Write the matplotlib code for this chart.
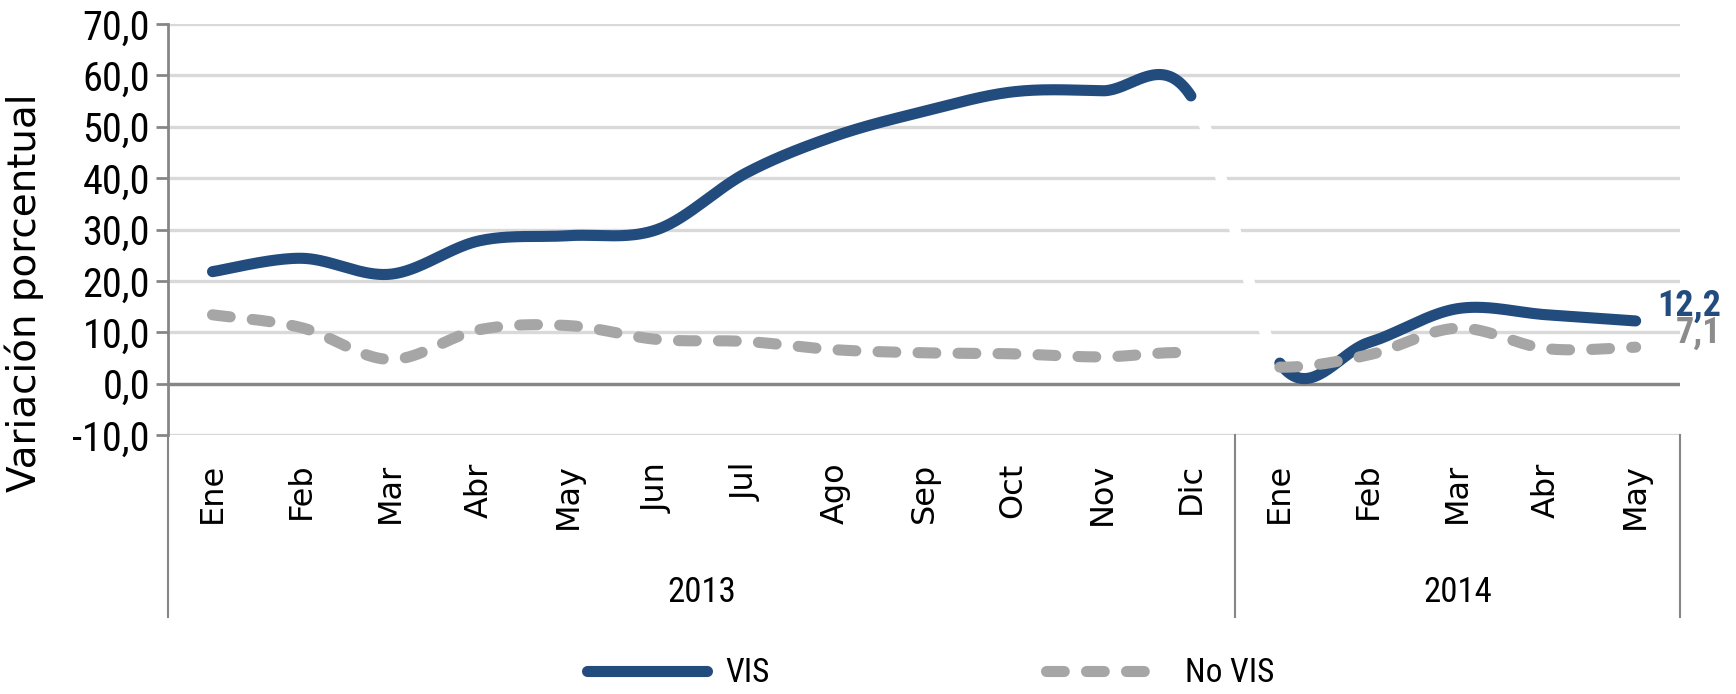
import numpy as np
import matplotlib
matplotlib.use('Agg')
import matplotlib.pyplot as plt
import matplotlib.transforms as mtransforms
from matplotlib.lines import Line2D
from matplotlib.ticker import FuncFormatter, MultipleLocator

# Datos
meses = ['Ene', 'Feb', 'Mar', 'Abr', 'May', 'Jun', 'Jul', 'Ago', 'Sep', 'Oct', 'Nov', 'Dic',
         'Ene', 'Feb', 'Mar', 'Abr', 'May']
anios = ['2013', '2014']
meses_por_anio = [12, 5]
vis = [21.8, 24.4, 21.3, 27.8, 28.8, 30.0, 41.0, 48.2, 53.0, 56.8, 57.0, 56.0,
       4.0, 8.0, 14.6, 13.4, 12.2]
no_vis = [13.4, 10.9, 4.7, 10.5, 11.3, 8.6, 8.2, 6.6, 6.0, 5.8, 5.2, 6.0,
          3.2, 5.6, 10.8, 6.8, 7.1]

AZUL = '#234C7E'
GRIS = '#A6A6A6'
GRID = '#D9D9D9'
EJE = '#868686'

NARROW = ['Roboto Condensed', 'PT Sans Narrow', 'Liberation Sans']


# Suavizado tipo Excel (Bezier con tangentes de Catmull-Rom)
def bezier(px, py, i, n=40):
    k = len(px)
    im1, ip2 = max(i - 1, 0), min(i + 2, k - 1)
    p0 = np.array([px[i], py[i]])
    p3 = np.array([px[i + 1], py[i + 1]])
    c1 = p0 + (p3 - np.array([px[im1], py[im1]])) / 6
    c2 = p3 - (np.array([px[ip2], py[ip2]]) - p0) / 6
    t = np.linspace(0, 1, n)[:, None]
    return (1 - t) ** 3 * p0 + 3 * (1 - t) ** 2 * t * c1 + 3 * (1 - t) * t ** 2 * c2 + t ** 3 * p3


def curva(py, i0, i1):
    px = np.arange(len(py))
    pts = np.vstack([bezier(px, py, i) for i in range(i0, i1)])
    return pts[:, 0], pts[:, 1]


def coma(v):
    return f"{v:.1f}".replace('.', ',')


fig = plt.figure(figsize=(17.36, 6.94), dpi=100)
ax = fig.add_axes([0.0968, 0.3732, 0.8710, 0.5922])

n = len(meses)
corte = meses_por_anio[0] - 1

ax.set_xlim(-0.5, n - 0.5)
ax.set_ylim(-10, 70)
ax.yaxis.set_major_locator(MultipleLocator(10))
ax.yaxis.set_major_formatter(FuncFormatter(lambda v, p: coma(v)))
ax.grid(axis='y', color=GRID, lw=2.4, zorder=0)
ax.set_axisbelow(True)
ax.axhline(0, color=EJE, lw=2.4, zorder=1)

for serie, color, estilo in [(vis, AZUL, dict(solid_capstyle='round')),
                             (no_vis, GRIS, dict(dashes=(1.6, 2.0), dash_capstyle='round'))]:
    x, y = curva(serie, 0, corte)
    ax.plot(x, y, color=color, lw=8, zorder=3, **estilo)
    # tramo Dic-Ene en blanco, como en el original
    x, y = curva(serie, corte, corte + 1)
    ax.plot(x, y, color='white', lw=8, zorder=2, solid_capstyle='butt')
    x, y = curva(serie, corte + 1, n - 1)
    ax.plot(x, y, color=color, lw=8, zorder=3, **estilo)

for spine in ['top', 'right', 'bottom']:
    ax.spines[spine].set_visible(False)
ax.spines['left'].set_color(EJE)
ax.spines['left'].set_linewidth(2)

ax.tick_params(axis='y', length=9, width=2, color=EJE, pad=4, labelsize=29)
for lbl in ax.get_yticklabels():
    lbl.set_family(NARROW)
ax.set_xticks(range(n))
ax.set_xticklabels(meses, rotation=90, fontsize=23, family='DejaVu Sans')
ax.tick_params(axis='x', length=0, pad=20)

# Separadores y etiquetas de año
tr = mtransforms.blended_transform_factory(ax.transData, ax.transAxes)
bordes = np.concatenate([[0], np.cumsum(meses_por_anio)]) - 0.5
for b in bordes:
    ax.plot([b, b], [0, -0.443], color=EJE, lw=1.5, transform=tr, clip_on=False)
for i, anio in enumerate(anios):
    centro = (bordes[i] + bordes[i + 1]) / 2
    ax.text(centro, -0.384, anio, transform=tr, ha='center', va='center',
            fontsize=25, family=NARROW)

ax.set_ylabel('Variación porcentual', fontsize=28, family='DejaVu Sans')
ax.yaxis.set_label_coords(-0.082, 0.345)

# Etiquetas del último dato
ax.annotate(coma(vis[-1]), (n - 1, vis[-1]), xytext=(62, 11),
            textcoords='offset points', ha='right', va='center', fontsize=26,
            fontweight='bold', color=AZUL, family=NARROW, annotation_clip=False)
ax.annotate(coma(no_vis[-1]), (n - 1, no_vis[-1]), xytext=(62, 10),
            textcoords='offset points', ha='right', va='center', fontsize=26,
            fontweight='bold', color='#8C8C8C', family=NARROW, annotation_clip=False)

handles = [Line2D([], [], color=AZUL, lw=8, solid_capstyle='round'),
           Line2D([], [], color=GRIS, lw=8, dashes=(1.6, 2.0), dash_capstyle='round')]
fig.legend(handles, ['VIS', 'No VIS'], loc='center', bbox_to_anchor=(0.536, 0.03),
           ncol=2, frameon=False, handlelength=3.6, handletextpad=0.55,
           columnspacing=8.3, prop={'family': NARROW, 'size': 24})

fig.savefig('out.png', dpi=100)
